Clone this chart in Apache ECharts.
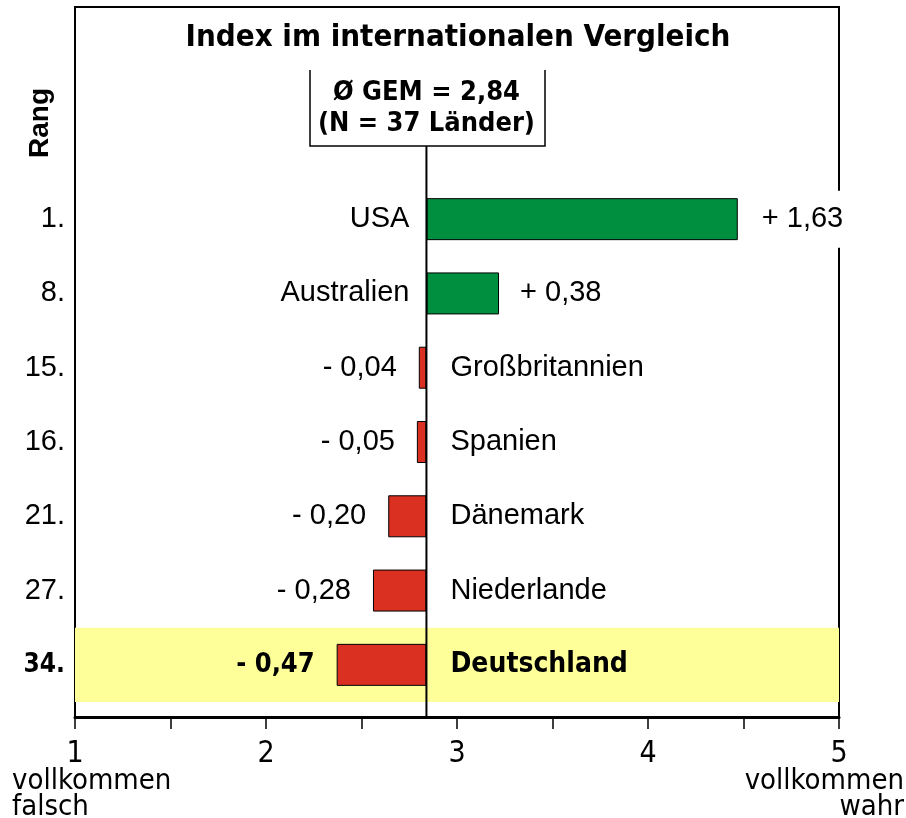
<!DOCTYPE html>
<html><head><meta charset="utf-8">
<script src="https://cdn.jsdelivr.net/npm/echarts@6/dist/echarts.min.js"></script>
<style>html,body{margin:0;padding:0;background:#fff}#c{width:906px;height:818px}</style>
</head><body><div id="c"></div>
<script>
const countries = ['USA','Australien','Großbritannien','Spanien','Dänemark','Niederlande','Deutschland'];
const ranks = ['1.','8.','15.','16.','21.','27.','34.'];
const diffs = [1.63, 0.38, -0.04, -0.05, -0.20, -0.28, -0.47];
const MEAN = 2.84;
const xTicks = [1,2,3,4,5];
const highlight = 'Deutschland';

const NARROW = '"Liberation Sans Narrow","Arial Narrow","DejaVu Sans Condensed",sans-serif';
const REG = '"Liberation Sans",Arial,Helvetica,sans-serif';
const GREEN = '#008f3f', RED = '#d93022', YELLOW = '#ffff99';
const FS = 29;

const chart = echarts.init(document.getElementById('c'), null, {renderer:'canvas'});
const hiIdx = countries.indexOf(highlight);
const fmt = d => (d > 0 ? '+ ' : '- ') + Math.abs(d).toFixed(2).replace('.', ',');

const option = {
  animation:false,
  backgroundColor:'#fff',
  grid:{left:75, right:67, top:182, bottom:116, containLabel:false},
  xAxis:{type:'value', min:xTicks[0], max:xTicks[xTicks.length-1], interval:1, offset:15,
    axisLine:{show:true, lineStyle:{color:'#000', width:3}},
    axisTick:{show:true, length:12, lineStyle:{color:'#000', width:1.5}},
    minorTick:{show:true, splitNumber:2, length:12, lineStyle:{color:'#000', width:1.5}},
    splitLine:{show:false},
    axisLabel:{margin:22, color:'#000', fontFamily:NARROW, fontSize:30,
      formatter: v => xTicks.includes(v) ? String(v) : ''}
  },
  yAxis:{type:'category', inverse:true, data: ranks.map((r,i)=> i===hiIdx ? {value:r, textStyle:{fontWeight:'bold', fontFamily:NARROW, fontSize:26}} : r),
    axisLine:{show:false}, axisTick:{show:false},
    axisLabel:{margin:10, color:'#000', fontFamily:REG, fontSize:FS}
  },
  series:[
    {type:'bar', stack:'a', silent:true, barWidth:42,
      itemStyle:{color:'rgba(0,0,0,0)'},
      data: diffs.map(d => MEAN + Math.min(d,0)),
      markArea:{silent:true, itemStyle:{color:YELLOW}, data:[[{yAxis:ranks[hiIdx]},{yAxis:ranks[hiIdx]}]]},
      z:1
    },
    {type:'bar', stack:'a', barWidth:42, z:3,
      data: diffs.map((d,i)=>({value:Math.abs(d),
        itemStyle:{color: d>0?GREEN:RED, borderColor:'#000', borderWidth:1},
        label:{show:true, position: d>0?'right':'left', distance: i===0 ? 20 : (d>0 ? 21 : 22),
          formatter: fmt(d), color:'#000',
          fontFamily: i===hiIdx ? NARROW : REG, fontWeight: i===hiIdx ? 'bold' : 'normal',
          fontSize: i===hiIdx ? 27 : FS,
          backgroundColor: i===0 ? '#fff' : 'transparent', padding: i===0 ? [14,4] : 0}
      }))
    },
    {type:'custom', z:4, silent:true,
      data: diffs.map((d,i)=>[MEAN, i, d]),
      renderItem:(params, api) => {
        const p = api.coord([api.value(0), api.value(1)]);
        const d = api.value(2);
        const hi = params.dataIndex === hiIdx;
        return {type:'text', x: p[0] + (d>0 ? -17 : 24), y: p[1],
          style:{text: countries[params.dataIndex], align: d>0?'right':'left', verticalAlign:'middle',
            fill:'#000', fontSize: hi?28:FS, fontFamily: hi?NARROW:REG, fontWeight: hi?'bold':'normal'}};
      }
    }
  ]
};
chart.setOption(option);

const mx = chart.convertToPixel({xAxisIndex:0}, MEAN);
chart.setOption({graphic:[
  {type:'rect', z:0, silent:true, shape:{x:75, y:7, width:764, height:710}, style:{fill:'none', stroke:'#000', lineWidth:2}},
  {type:'line', z:10, silent:true, shape:{x1:mx, y1:146, x2:mx, y2:717}, style:{stroke:'#000', lineWidth:2}},
  {type:'polyline', z:10, silent:true, shape:{points:[[310,70],[310,146],[545,146],[545,70]]}, style:{fill:'none', stroke:'#000', lineWidth:1.5}},
  {type:'text', z:10, silent:true, x:mx, y:108, style:{text:'Ø GEM = ' + MEAN.toFixed(2).replace('.',',') + '\n(N = 37 Länder)', align:'center', verticalAlign:'middle', fontFamily:NARROW, fontWeight:'bold', fontSize:27, lineHeight:31, fill:'#000'}},
  {type:'text', z:10, silent:true, x:458, y:38, style:{text:'Index im internationalen Vergleich', align:'center', verticalAlign:'middle', fontFamily:NARROW, fontWeight:'bold', fontSize:31, fill:'#000'}},
  {type:'text', z:10, silent:true, x:40, y:123, rotation:Math.PI/2, style:{text:'Rang', align:'center', verticalAlign:'middle', fontFamily:REG, fontWeight:'bold', fontSize:28, fill:'#000'}},
  {type:'text', z:10, silent:true, x:12, y:794, style:{text:'vollkommen\nfalsch', align:'left', verticalAlign:'middle', fontFamily:NARROW, fontSize:29, lineHeight:26, fill:'#000'}},
  {type:'text', z:10, silent:true, x:904, y:794, style:{text:'vollkommen\nwahr', align:'right', verticalAlign:'middle', fontFamily:NARROW, fontSize:29, lineHeight:26, fill:'#000'}}
]});
</script></body></html>
